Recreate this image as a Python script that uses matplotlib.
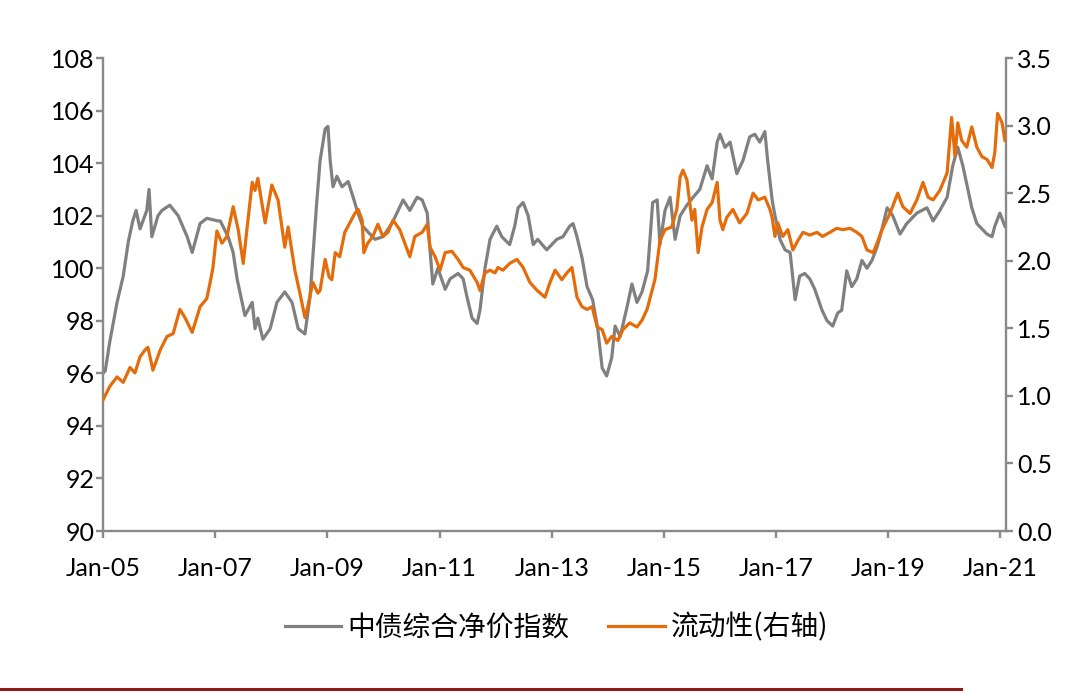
import numpy as np
import matplotlib.pyplot as plt
from matplotlib.lines import Line2D

plt.rcParams['font.family'] = ['Lato', 'Noto Sans CJK SC', 'DejaVu Sans']

# ---- data (decimal years) ----
bond_years = [2005.00, 2005.04, 2005.12, 2005.25, 2005.36, 2005.45, 2005.53, 2005.59, 2005.66, 2005.78,
              2005.82, 2005.87, 2005.98, 2006.05, 2006.19, 2006.34, 2006.50, 2006.59, 2006.73, 2006.85,
              2007.05, 2007.09, 2007.23, 2007.32, 2007.39, 2007.48, 2007.53, 2007.66, 2007.71, 2007.76,
              2007.85, 2007.98, 2008.10, 2008.24, 2008.37, 2008.48, 2008.60, 2008.69, 2008.74, 2008.81,
              2008.87, 2008.96, 2009.01, 2009.05, 2009.10, 2009.17, 2009.26, 2009.37, 2009.46, 2009.53,
              2009.63, 2009.76, 2009.85, 2009.99, 2010.15, 2010.24, 2010.35, 2010.47, 2010.60, 2010.69,
              2010.78, 2010.83, 2010.88, 2010.97, 2011.10, 2011.19, 2011.33, 2011.42, 2011.49, 2011.58,
              2011.67, 2011.72, 2011.81, 2011.90, 2012.02, 2012.11, 2012.25, 2012.34, 2012.40, 2012.49,
              2012.58, 2012.67, 2012.75, 2012.91, 2013.09, 2013.20, 2013.32, 2013.38, 2013.45, 2013.54,
              2013.63, 2013.73, 2013.82, 2013.90, 2013.98, 2014.07, 2014.13, 2014.22, 2014.34, 2014.43,
              2014.52, 2014.61, 2014.71, 2014.80, 2014.88, 2014.93, 2015.02, 2015.11, 2015.20, 2015.29,
              2015.41, 2015.52, 2015.64, 2015.77, 2015.86, 2015.95, 2016.00, 2016.09, 2016.18, 2016.30,
              2016.41, 2016.53, 2016.62, 2016.71, 2016.80, 2016.85, 2016.93, 2016.98, 2017.07, 2017.16,
              2017.25, 2017.34, 2017.42, 2017.51, 2017.60, 2017.69, 2017.82, 2017.91, 2018.01, 2018.10,
              2018.17, 2018.26, 2018.35, 2018.44, 2018.53, 2018.62, 2018.71, 2018.80, 2018.89, 2018.98,
              2019.08, 2019.21, 2019.33, 2019.51, 2019.69, 2019.80, 2019.92, 2020.05, 2020.15, 2020.24,
              2020.33, 2020.40, 2020.49, 2020.58, 2020.67, 2020.76, 2020.85, 2020.90, 2020.99, 2021.08]
bond_index = [96.0, 96.1, 97.2, 98.7, 99.7, 101.0, 101.8, 102.2, 101.5, 102.2,
              103.0, 101.2, 102.0, 102.2, 102.4, 102.0, 101.2, 100.6, 101.7, 101.9,
              101.8, 101.8, 101.2, 100.6, 99.6, 98.7, 98.2, 98.7, 97.7, 98.1,
              97.3, 97.7, 98.7, 99.1, 98.7, 97.7, 97.5, 98.9, 100.4, 102.5,
              104.1, 105.3, 105.4, 104.1, 103.1, 103.5, 103.1, 103.3, 102.7, 102.2,
              101.6, 101.3, 101.1, 101.2, 101.7, 102.1, 102.6, 102.2, 102.7, 102.6,
              102.1, 100.7, 99.4, 100.0, 99.2, 99.6, 99.8, 99.6, 98.9, 98.1,
              97.9, 98.4, 100.0, 101.1, 101.6, 101.2, 100.9, 101.6, 102.3, 102.5,
              102.0, 100.9, 101.1, 100.7, 101.1, 101.2, 101.6, 101.7, 101.2, 100.4,
              99.3, 98.8, 97.7, 96.2, 95.9, 96.6, 97.8, 97.4, 98.5, 99.4,
              98.7, 99.1, 99.9, 102.5, 102.6, 100.9, 102.2, 102.7, 101.1, 102.0,
              102.4, 102.7, 103.0, 103.9, 103.4, 104.8, 105.1, 104.6, 104.8, 103.6,
              104.1, 105.0, 105.1, 104.8, 105.2, 104.1, 102.6, 102.0, 101.1, 100.7,
              100.6, 98.8, 99.7, 99.8, 99.6, 99.2, 98.4, 98.0, 97.8, 98.3,
              98.4, 99.9, 99.3, 99.6, 100.3, 100.0, 100.3, 100.8, 101.5, 102.3,
              102.0, 101.3, 101.7, 102.1, 102.3, 101.8, 102.2, 102.7, 103.9, 104.6,
              103.9, 103.2, 102.3, 101.7, 101.5, 101.3, 101.2, 101.6, 102.1, 101.6]

liq_years = [2005.00, 2005.12, 2005.25, 2005.36, 2005.48, 2005.57, 2005.66, 2005.75, 2005.80, 2005.89,
             2006.02, 2006.14, 2006.25, 2006.37, 2006.46, 2006.59, 2006.73, 2006.85, 2006.91, 2006.96,
             2007.03, 2007.12, 2007.21, 2007.32, 2007.41, 2007.50, 2007.57, 2007.66, 2007.71, 2007.76,
             2007.89, 2008.01, 2008.12, 2008.24, 2008.30, 2008.42, 2008.51, 2008.60, 2008.65, 2008.74,
             2008.83, 2008.87, 2008.96, 2009.03, 2009.08, 2009.14, 2009.22, 2009.31, 2009.40, 2009.49,
             2009.55, 2009.62, 2009.65, 2009.72, 2009.81, 2009.90, 2009.99, 2010.08, 2010.17, 2010.29,
             2010.38, 2010.47, 2010.56, 2010.69, 2010.78, 2010.83, 2010.92, 2011.01, 2011.10, 2011.22,
             2011.33, 2011.42, 2011.54, 2011.67, 2011.72, 2011.81, 2011.90, 2011.99, 2012.04, 2012.13,
             2012.25, 2012.38, 2012.49, 2012.61, 2012.74, 2012.88, 2012.97, 2013.06, 2013.18, 2013.27,
             2013.36, 2013.45, 2013.54, 2013.63, 2013.72, 2013.81, 2013.90, 2013.98, 2014.07, 2014.18,
             2014.27, 2014.39, 2014.52, 2014.61, 2014.70, 2014.79, 2014.84, 2014.93, 2015.02, 2015.14,
             2015.23, 2015.29, 2015.34, 2015.41, 2015.50, 2015.55, 2015.61, 2015.68, 2015.77, 2015.86,
             2015.95, 2016.00, 2016.05, 2016.12, 2016.23, 2016.35, 2016.48, 2016.59, 2016.68, 2016.80,
             2016.89, 2016.93, 2016.98, 2017.03, 2017.12, 2017.21, 2017.30, 2017.39, 2017.48, 2017.60,
             2017.73, 2017.83, 2017.96, 2018.08, 2018.19, 2018.32, 2018.44, 2018.53, 2018.62, 2018.73,
             2018.80, 2018.89, 2019.03, 2019.17, 2019.26, 2019.39, 2019.51, 2019.62, 2019.71, 2019.80,
             2019.92, 2020.05, 2020.13, 2020.19, 2020.24, 2020.31, 2020.40, 2020.49, 2020.58, 2020.67,
             2020.76, 2020.85, 2020.90, 2020.95, 2021.03, 2021.08]
liquidity = [0.97, 1.07, 1.14, 1.10, 1.21, 1.17, 1.29, 1.34, 1.36, 1.19,
             1.34, 1.44, 1.46, 1.64, 1.58, 1.47, 1.66, 1.72, 1.84, 1.95,
             2.22, 2.13, 2.18, 2.40, 2.23, 1.98, 2.25, 2.58, 2.52, 2.61,
             2.28, 2.56, 2.45, 2.10, 2.25, 1.93, 1.76, 1.58, 1.66, 1.84,
             1.76, 1.78, 2.01, 1.88, 1.86, 2.06, 2.03, 2.21, 2.28, 2.35,
             2.38, 2.30, 2.06, 2.13, 2.18, 2.27, 2.18, 2.21, 2.30, 2.23,
             2.13, 2.03, 2.18, 2.21, 2.27, 2.10, 2.03, 1.93, 2.06, 2.07,
             2.01, 1.95, 1.93, 1.84, 1.78, 1.91, 1.93, 1.91, 1.95, 1.93,
             1.98, 2.01, 1.95, 1.84, 1.78, 1.73, 1.84, 1.93, 1.86, 1.91,
             1.95, 1.73, 1.66, 1.64, 1.66, 1.51, 1.49, 1.39, 1.44, 1.41,
             1.49, 1.54, 1.51, 1.56, 1.64, 1.78, 1.86, 2.15, 2.23, 2.25,
             2.38, 2.62, 2.67, 2.60, 2.30, 2.38, 2.06, 2.25, 2.38, 2.43,
             2.58, 2.30, 2.23, 2.32, 2.38, 2.28, 2.35, 2.50, 2.45, 2.47,
             2.38, 2.32, 2.18, 2.28, 2.18, 2.23, 2.08, 2.15, 2.21, 2.19,
             2.21, 2.18, 2.21, 2.24, 2.23, 2.24, 2.21, 2.18, 2.08, 2.06,
             2.13, 2.23, 2.35, 2.50, 2.40, 2.35, 2.45, 2.58, 2.47, 2.45,
             2.52, 2.65, 3.06, 2.77, 3.02, 2.89, 2.84, 2.99, 2.84, 2.77,
             2.75, 2.69, 2.80, 3.09, 3.02, 2.89]

xtick_years = [2005, 2007, 2009, 2011, 2013, 2015, 2017, 2019, 2021]
xtick_labels = ['Jan-05', 'Jan-07', 'Jan-09', 'Jan-11', 'Jan-13', 'Jan-15', 'Jan-17', 'Jan-19', 'Jan-21']
left_ticks = [90, 92, 94, 96, 98, 100, 102, 104, 106, 108]
right_ticks = [0.0, 0.5, 1.0, 1.5, 2.0, 2.5, 3.0, 3.5]

GRAY = '#808080'
ORANGE = '#E46C0A'
SPINE = '#8a8a8a'

fig = plt.figure(figsize=(10.8, 6.99), dpi=100)
ax = fig.add_axes([0.0954, 0.2403, 0.8361, 0.6767])
ax2 = ax.twinx()

ax.plot(bond_years, bond_index, color=GRAY, lw=2.3, zorder=2)
ax2.plot(liq_years, liquidity, color=ORANGE, lw=2.3, zorder=3)

ax.set_xlim(2005.0, 2021.10)
ax.set_ylim(90, 108)
ax2.set_ylim(0, 3.5)
ax.set_xticks(xtick_years)
ax.set_xticklabels(xtick_labels)
ax.set_yticks(left_ticks)
ax.set_yticklabels([str(t) for t in left_ticks])
ax2.set_yticks(right_ticks)
ax2.set_yticklabels([f'{t:.1f}' for t in right_ticks])

for a in (ax, ax2):
    a.spines['top'].set_visible(False)
    for s in ('left', 'right', 'bottom'):
        a.spines[s].set_color(SPINE)
        a.spines[s].set_linewidth(1.7)
    a.tick_params(colors=SPINE, labelcolor='black', labelsize=18, width=1.7, length=5)
ax.spines['right'].set_visible(False)
ax2.spines['left'].set_visible(False)
ax2.spines['bottom'].set_visible(False)
ax.tick_params(axis='x', pad=14)
ax.tick_params(axis='y', pad=1)
ax2.tick_params(axis='y', pad=3)

handles = [Line2D([], [], color=GRAY, lw=2.3), Line2D([], [], color=ORANGE, lw=2.3)]
fig.legend(handles, ['中债综合净价指数', '流动性(右轴)'], loc='center', bbox_to_anchor=(0.515, 0.102),
           ncol=2, frameon=False, handlelength=2.05, handletextpad=0.2, columnspacing=1.4,
           prop={'family': ['Noto Sans CJK SC', 'DejaVu Sans'], 'size': 20, 'weight': 'light'})

# dark red rule at the bottom
fig.add_artist(Line2D([0.0, 0.89], [0.015, 0.015], transform=fig.transFigure, color='#8B1A1A', lw=2.2))

fig.savefig('out.png', dpi=100)
